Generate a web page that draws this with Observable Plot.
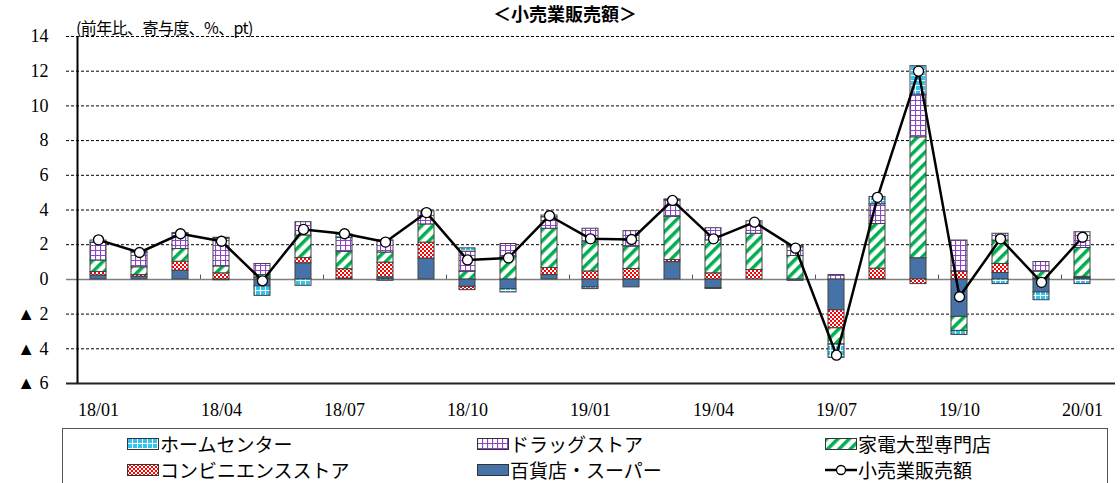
<!DOCTYPE html>
<html><head><meta charset="utf-8">
<script src="https://cdn.jsdelivr.net/npm/d3@7"></script>
<script src="https://cdn.jsdelivr.net/npm/@observablehq/plot@0.6"></script>
<style>
body{margin:0;background:#fff;}
#wrap{position:relative;width:1120px;height:483px;overflow:hidden;background:#fff;font-family:"Noto Sans CJK JP",sans-serif;color:#000;}
#chart{position:absolute;left:0;top:0;}
#title{position:absolute;left:0;width:1130px;top:2px;line-height:22px;text-align:center;font-size:18px;font-weight:bold;}
#ylab{position:absolute;left:76px;top:18px;line-height:18px;font-size:16px;letter-spacing:-0.6px;}
#legend{position:absolute;left:62px;top:428px;width:1046px;height:70px;border:1px solid #555;box-sizing:border-box;}
.item{position:absolute;height:22px;line-height:22px;font-size:19px;white-space:nowrap;}
.item svg{position:absolute;left:0;top:5px;}
.item span{position:absolute;left:33px;top:0;}
</style></head>
<body>
<svg width="0" height="0" style="position:absolute">
<defs>
<pattern id="pHome" width="5" height="5" patternUnits="userSpaceOnUse">
 <rect width="5" height="5" fill="#33C3F0"/>
 <path d="M0 0.5H5M0.5 0V5" stroke="#fff" stroke-width="1"/>
</pattern>
<pattern id="pDrug" width="5" height="5" patternUnits="userSpaceOnUse">
 <rect width="5" height="5" fill="#fff"/>
 <path d="M0 0.5H5M0.5 0V5" stroke="#8A45C8" stroke-width="1.2"/>
</pattern>
<pattern id="pElec" width="8" height="8" patternUnits="userSpaceOnUse" patternTransform="rotate(45)">
 <rect width="8" height="8" fill="#fff"/>
 <rect width="3.5" height="8" fill="#00B050"/>
</pattern>
<pattern id="pConv" width="4" height="4" patternUnits="userSpaceOnUse">
 <rect width="4" height="4" fill="#FF0000"/>
 <rect width="2" height="2" fill="#fff"/>
 <rect x="2" y="2" width="2" height="2" fill="#fff"/>
</pattern>
</defs></svg>
<div id="wrap">
  <div id="chart"></div>
  <div id="title">＜小売業販売額＞</div>
  <div id="ylab">(前年比、寄与度、%、pt)</div>
  <div id="legend"></div>
</div>
<script>
const months = ["18/01","18/02","18/03","18/04","18/05","18/06","18/07","18/08","18/09","18/10","18/11","18/12",
  "19/01","19/02","19/03","19/04","19/05","19/06","19/07","19/08","19/09","19/10","19/11","19/12","20/01"];
const dept  = [0.23,0.15,0.5,-0.05,-0.4,0.93,0.05,0.12,1.2,-0.43,-0.56,0.25,-0.46,-0.46,1.0,-0.5,0,-0.08,-1.78,0.02,1.22,-2.16,0.37,-0.75,0.08];
const conv  = [0.2,0.1,0.52,0.35,0.1,0.3,0.54,0.85,0.92,-0.19,0,0.41,0.46,0.6,0.12,0.35,0.54,0,-1.04,0.6,-0.27,0.44,0.52,0.05,0.07];
const elec  = [0.66,0.45,0.73,0.4,0.15,1.3,1.0,0.58,1.05,0.44,1.31,2.26,1.68,1.29,2.49,1.9,2.09,1.35,-0.93,2.57,6.97,-0.81,1.35,0.4,1.66];
const drug  = [1.02,0.85,0.87,1.6,0.64,0.77,0.8,0.7,0.75,1.16,0.73,0.66,0.78,0.89,0.95,0.7,0.72,0.5,0.25,1.14,2.46,1.8,0.39,0.55,0.91];
const home  = [0.13,0.05,0.05,0.05,-0.55,-0.37,0.2,-0.08,0,0.19,-0.19,0.1,-0.1,0,0.05,-0.05,0,0.08,-0.77,0.42,1.64,-0.23,-0.27,-0.45,-0.27];
const total = [2.28,1.55,2.63,2.2,-0.08,2.88,2.63,2.15,3.85,1.12,1.24,3.67,2.34,2.3,4.55,2.34,3.3,1.8,-4.37,4.73,12.0,-1.0,2.34,-0.17,2.43];

const seriesNames = ["百貨店・スーパー","コンビニエンスストア","家電大型専門店","ドラッグストア","ホームセンター"];
const seriesFills = ["#4672A8","url(#pConv)","url(#pElec)","url(#pDrug)","url(#pHome)"];
const seriesValues = [dept, conv, elec, drug, home];
const lineName = "小売業販売額";
const xTickLabels = ["18/01","18/04","18/07","18/10","19/01","19/04","19/07","19/10","20/01"];
const boundaryMonths = ["18/04","18/07","18/10","19/01","19/04","19/07","19/10","20/01"];
const yTicks = [-6,-4,-2,0,2,4,6,8,10,12,14];
const gridValues = [-4,-2,2,4,6,8,10,12,14];

const rows = [];
months.forEach((m,i)=>seriesNames.forEach((s,j)=>rows.push({month:m, series:s, value:seriesValues[j][i]})));
const totals = months.map((m,i)=>({month:m, value:total[i]}));

const chart = Plot.plot({
  width:1120, height:425, marginLeft:66, marginRight:5, marginTop:36, marginBottom:42,
  style:{fontFamily:'"Liberation Serif", serif', fontSize:"18px", background:"transparent", color:"#000"},
  x:{type:"band", domain:months, paddingInner:0.6, paddingOuter:0.3, axis:null, label:null},
  y:{domain:[-6,14], axis:null, label:null},
  color:{type:"ordinal", domain:seriesNames, range:seriesFills},
  marks:[
    Plot.ruleY(gridValues, {stroke:"#000", strokeWidth:1, strokeDasharray:"3,2"}),
    Plot.ruleY([-6], {stroke:"#222", strokeWidth:2}),
    Plot.ruleY([0], {stroke:"#7f7f7f", strokeWidth:1.5}),
    Plot.ruleX(boundaryMonths, {x:d=>d, y1:0, y2:0.25, dx:-21, stroke:"#555"}),
    Plot.ruleX([months[0]], {x:d=>d, y1:-6, y2:14, dx:-21, stroke:"#000", strokeWidth:2}),
    Plot.barY(rows, Plot.stackY({x:"month", y:"value", z:"series", order:seriesNames, fill:"series",
      filter:d=>d.value!==0, stroke:"#404040", strokeWidth:1})),
    Plot.line(totals, {x:"month", y:"value", stroke:"#000", strokeWidth:2.5}),
    Plot.dot(totals, {x:"month", y:"value", r:5, fill:"#fff", stroke:"#000", strokeWidth:1.3}),
    Plot.axisY({ticks:yTicks, tickFormat:d=>d<0?"▲ "+(-d):String(d), tickSize:0, tickPadding:18, fontSize:18, fontWeight:"normal", label:null}),
    Plot.axisX({ticks:xTickLabels, tickSize:0, tickPadding:20, fontSize:18, fontWeight:"normal", label:null})
  ]
});
document.getElementById("chart").appendChild(chart);

// legend
const legend = document.getElementById("legend");
const legendRows = [
  [[seriesNames[4], seriesFills[4]], [seriesNames[3], seriesFills[3]], [seriesNames[2], seriesFills[2]]],
  [[seriesNames[1], seriesFills[1]], [seriesNames[0], seriesFills[0]], [lineName, null]]
];
const colX = [127, 477, 825];
const rowY = [444, 470];
legendRows.forEach((r,ri)=>r.forEach(([name, fill],ci)=>{
  const it = document.createElement("div");
  it.className = "item";
  it.style.left = colX[ci] + "px";
  it.style.top = (rowY[ri] - 11) + "px";
  const sw = fill
    ? `<svg width="32" height="12"><rect x="0.5" y="0.5" width="31" height="11" fill="${fill}" stroke="#333" stroke-width="1"/></svg>`
    : `<svg width="32" height="12"><line x1="0" y1="6" x2="32" y2="6" stroke="#000" stroke-width="2.5"/><circle cx="16" cy="6" r="4.5" fill="#fff" stroke="#000" stroke-width="1.3"/></svg>`;
  it.innerHTML = sw + `<span>${name}</span>`;
  legend.parentNode.appendChild(it);
}));
</script>
</body></html>
